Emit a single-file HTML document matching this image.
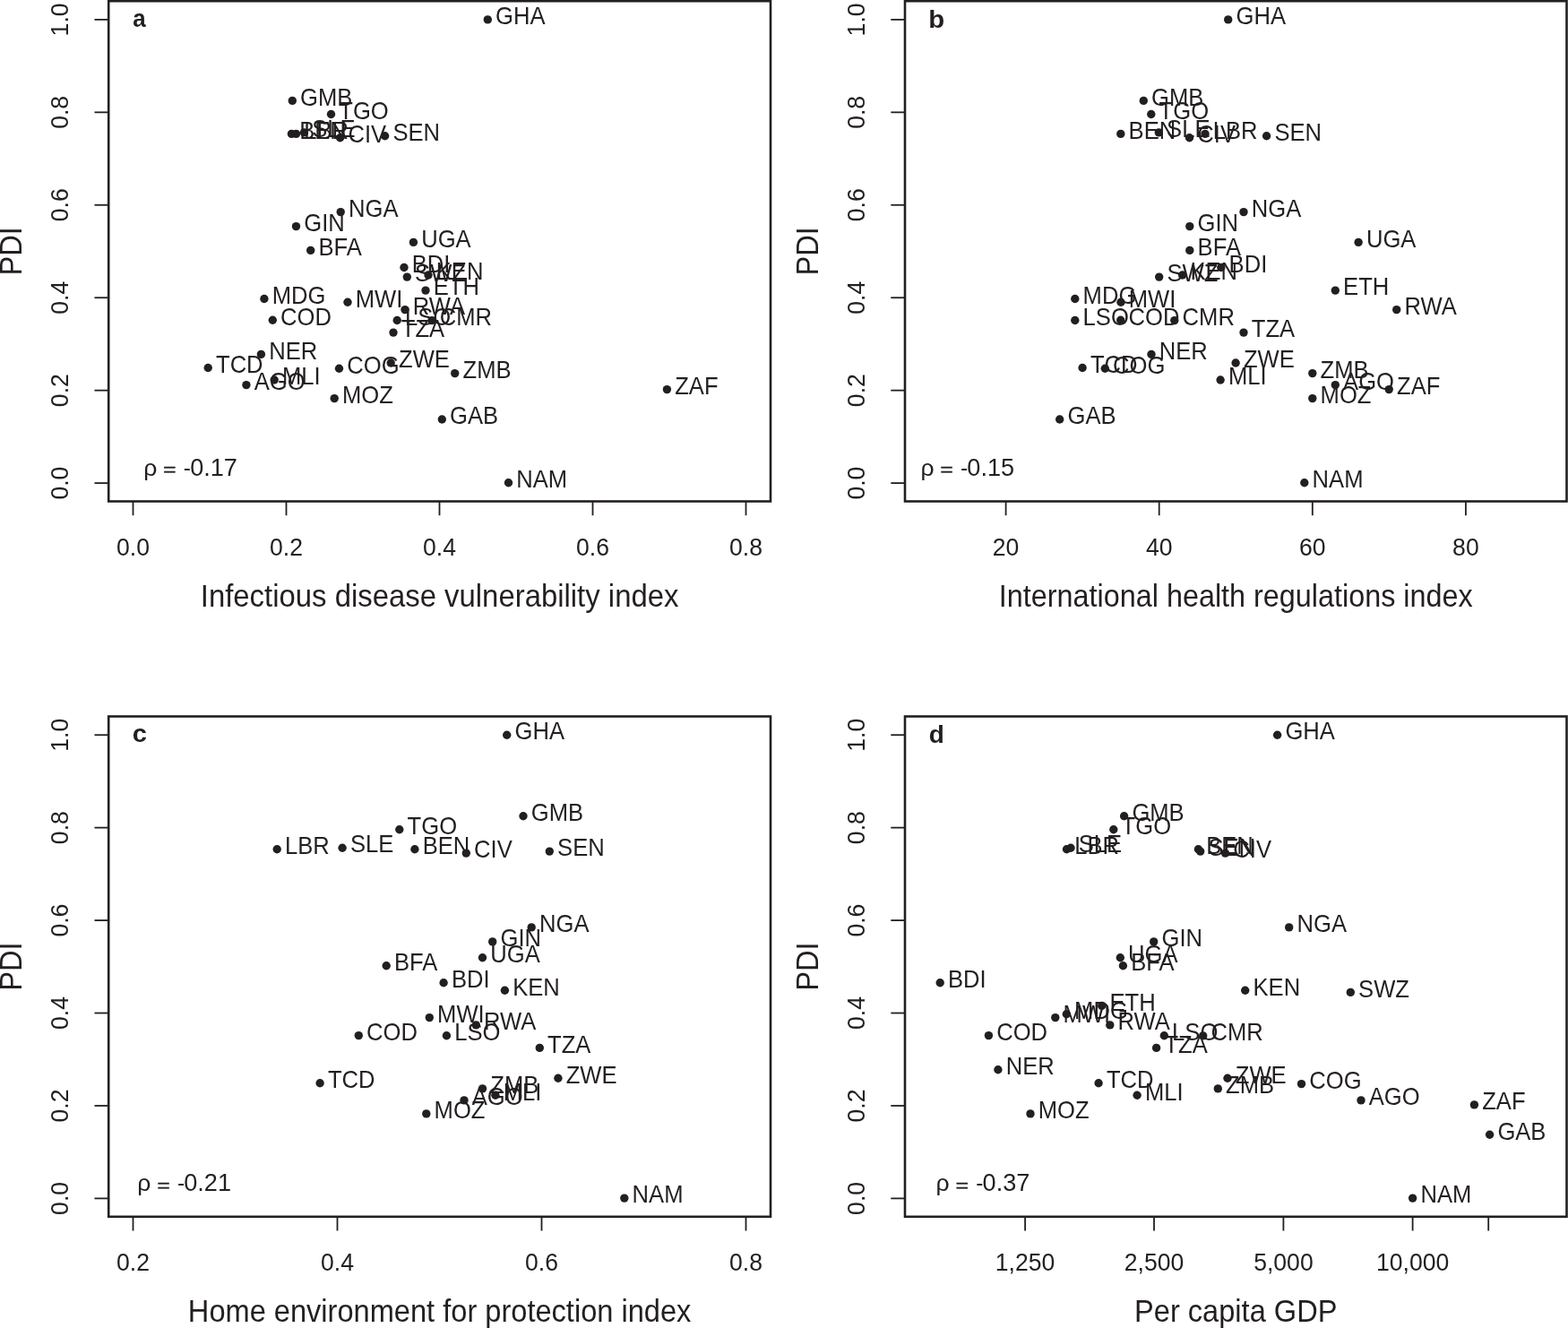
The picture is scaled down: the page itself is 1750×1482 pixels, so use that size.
<!DOCTYPE html>
<html><head><meta charset="utf-8"><title>PDI scatter plots</title>
<style>
html,body{margin:0;padding:0;background:#fff;}
body{width:1750px;height:1482px;overflow:hidden;}
svg{display:block;}
text{font-family:"Liberation Sans",Arial,Helvetica,sans-serif;fill:#231f20;}
circle{fill:#231f20;}
</style></head>
<body>
<svg width="1750" height="1482" viewBox="0 0 1750 1482">
<rect x="0" y="0" width="1750" height="1482" fill="#fff"/>
<rect x="121.2" y="1.2" width="738.80" height="558.30" fill="none" stroke="#231f20" stroke-width="2.6"/>
<line x1="105.50" y1="539.10" x2="121.2" y2="539.10" stroke="#231f20" stroke-width="1.8"/>
<text transform="translate(76.00,539.10) rotate(-90) scale(1.0000,1.0400)" font-size="26.6" text-anchor="middle">0.0</text>
<line x1="105.50" y1="435.66" x2="121.2" y2="435.66" stroke="#231f20" stroke-width="1.8"/>
<text transform="translate(76.00,435.66) rotate(-90) scale(1.0000,1.0400)" font-size="26.6" text-anchor="middle">0.2</text>
<line x1="105.50" y1="332.22" x2="121.2" y2="332.22" stroke="#231f20" stroke-width="1.8"/>
<text transform="translate(76.00,332.22) rotate(-90) scale(1.0000,1.0400)" font-size="26.6" text-anchor="middle">0.4</text>
<line x1="105.50" y1="228.78" x2="121.2" y2="228.78" stroke="#231f20" stroke-width="1.8"/>
<text transform="translate(76.00,228.78) rotate(-90) scale(1.0000,1.0400)" font-size="26.6" text-anchor="middle">0.6</text>
<line x1="105.50" y1="125.34" x2="121.2" y2="125.34" stroke="#231f20" stroke-width="1.8"/>
<text transform="translate(76.00,125.34) rotate(-90) scale(1.0000,1.0400)" font-size="26.6" text-anchor="middle">0.8</text>
<line x1="105.50" y1="21.90" x2="121.2" y2="21.90" stroke="#231f20" stroke-width="1.8"/>
<text transform="translate(76.00,21.90) rotate(-90) scale(1.0000,1.0400)" font-size="26.6" text-anchor="middle">1.0</text>
<line x1="148.50" y1="559.5" x2="148.50" y2="575.20" stroke="#231f20" stroke-width="1.8"/>
<text transform="translate(148.50,619.80) scale(1.0000,1.0400)" font-size="26.6" text-anchor="middle">0.0</text>
<line x1="319.50" y1="559.5" x2="319.50" y2="575.20" stroke="#231f20" stroke-width="1.8"/>
<text transform="translate(319.50,619.80) scale(1.0000,1.0400)" font-size="26.6" text-anchor="middle">0.2</text>
<line x1="490.50" y1="559.5" x2="490.50" y2="575.20" stroke="#231f20" stroke-width="1.8"/>
<text transform="translate(490.50,619.80) scale(1.0000,1.0400)" font-size="26.6" text-anchor="middle">0.4</text>
<line x1="661.50" y1="559.5" x2="661.50" y2="575.20" stroke="#231f20" stroke-width="1.8"/>
<text transform="translate(661.50,619.80) scale(1.0000,1.0400)" font-size="26.6" text-anchor="middle">0.6</text>
<line x1="832.50" y1="559.5" x2="832.50" y2="575.20" stroke="#231f20" stroke-width="1.8"/>
<text transform="translate(832.50,619.80) scale(1.0000,1.0400)" font-size="26.6" text-anchor="middle">0.8</text>
<circle cx="544.30" cy="21.90" r="4.7"/>
<circle cx="326.30" cy="112.40" r="4.7"/>
<circle cx="369.50" cy="127.50" r="4.7"/>
<circle cx="325.40" cy="149.40" r="4.7"/>
<circle cx="330.50" cy="149.40" r="4.7"/>
<circle cx="339.50" cy="147.90" r="4.7"/>
<circle cx="379.60" cy="153.80" r="4.7"/>
<circle cx="429.60" cy="151.80" r="4.7"/>
<circle cx="380.20" cy="236.60" r="4.7"/>
<circle cx="330.50" cy="252.60" r="4.7"/>
<circle cx="346.70" cy="279.40" r="4.7"/>
<circle cx="461.40" cy="270.40" r="4.7"/>
<circle cx="451.00" cy="298.50" r="4.7"/>
<circle cx="454.30" cy="309.10" r="4.7"/>
<circle cx="478.00" cy="307.00" r="4.7"/>
<circle cx="475.00" cy="324.10" r="4.7"/>
<circle cx="294.90" cy="333.50" r="4.7"/>
<circle cx="388.00" cy="337.30" r="4.7"/>
<circle cx="452.00" cy="345.60" r="4.7"/>
<circle cx="304.30" cy="357.30" r="4.7"/>
<circle cx="443.20" cy="357.50" r="4.7"/>
<circle cx="482.00" cy="357.60" r="4.7"/>
<circle cx="439.00" cy="371.10" r="4.7"/>
<circle cx="291.40" cy="395.40" r="4.7"/>
<circle cx="232.20" cy="410.50" r="4.7"/>
<circle cx="274.90" cy="429.60" r="4.7"/>
<circle cx="306.20" cy="424.00" r="4.7"/>
<circle cx="378.50" cy="411.30" r="4.7"/>
<circle cx="436.20" cy="405.00" r="4.7"/>
<circle cx="507.70" cy="416.60" r="4.7"/>
<circle cx="373.20" cy="444.60" r="4.7"/>
<circle cx="493.30" cy="468.00" r="4.7"/>
<circle cx="744.40" cy="434.60" r="4.7"/>
<circle cx="567.50" cy="538.80" r="4.7"/>
<text transform="translate(553.10,27.10) scale(1.0000,1.0450)" font-size="25.6">GHA</text>
<text transform="translate(335.10,117.60) scale(1.0000,1.0450)" font-size="25.6">GMB</text>
<text transform="translate(378.30,132.70) scale(1.0000,1.0450)" font-size="25.6">TGO</text>
<text transform="translate(334.20,154.60) scale(1.0000,1.0450)" font-size="25.6">BEN</text>
<text transform="translate(339.30,154.60) scale(1.0000,1.0450)" font-size="25.6">LBR</text>
<text transform="translate(348.30,153.10) scale(1.0000,1.0450)" font-size="25.6">SLE</text>
<text transform="translate(388.40,159.00) scale(1.0000,1.0450)" font-size="25.6">CIV</text>
<text transform="translate(438.40,157.00) scale(1.0000,1.0450)" font-size="25.6">SEN</text>
<text transform="translate(389.00,241.80) scale(1.0000,1.0450)" font-size="25.6">NGA</text>
<text transform="translate(339.30,257.80) scale(1.0000,1.0450)" font-size="25.6">GIN</text>
<text transform="translate(355.50,284.60) scale(1.0000,1.0450)" font-size="25.6">BFA</text>
<text transform="translate(470.20,275.60) scale(1.0000,1.0450)" font-size="25.6">UGA</text>
<text transform="translate(459.80,303.70) scale(1.0000,1.0450)" font-size="25.6">BDI</text>
<text transform="translate(463.10,314.30) scale(1.0000,1.0450)" font-size="25.6">SWZ</text>
<text transform="translate(486.80,312.20) scale(1.0000,1.0450)" font-size="25.6">KEN</text>
<text transform="translate(483.80,329.30) scale(1.0000,1.0450)" font-size="25.6">ETH</text>
<text transform="translate(303.70,338.70) scale(1.0000,1.0450)" font-size="25.6">MDG</text>
<text transform="translate(396.80,342.50) scale(1.0000,1.0450)" font-size="25.6">MWI</text>
<text transform="translate(460.80,350.80) scale(1.0000,1.0450)" font-size="25.6">RWA</text>
<text transform="translate(313.10,362.50) scale(1.0000,1.0450)" font-size="25.6">COD</text>
<text transform="translate(452.00,362.70) scale(1.0000,1.0450)" font-size="25.6">LSO</text>
<text transform="translate(490.80,362.80) scale(1.0000,1.0450)" font-size="25.6">CMR</text>
<text transform="translate(447.80,376.30) scale(1.0000,1.0450)" font-size="25.6">TZA</text>
<text transform="translate(300.20,400.60) scale(1.0000,1.0450)" font-size="25.6">NER</text>
<text transform="translate(241.00,415.70) scale(1.0000,1.0450)" font-size="25.6">TCD</text>
<text transform="translate(283.70,434.80) scale(1.0000,1.0450)" font-size="25.6">AGO</text>
<text transform="translate(315.00,429.20) scale(1.0000,1.0450)" font-size="25.6">MLI</text>
<text transform="translate(387.30,416.50) scale(1.0000,1.0450)" font-size="25.6">COG</text>
<text transform="translate(445.00,410.20) scale(1.0000,1.0450)" font-size="25.6">ZWE</text>
<text transform="translate(516.50,421.80) scale(1.0000,1.0450)" font-size="25.6">ZMB</text>
<text transform="translate(382.00,449.80) scale(1.0000,1.0450)" font-size="25.6">MOZ</text>
<text transform="translate(502.10,473.20) scale(1.0000,1.0450)" font-size="25.6">GAB</text>
<text transform="translate(753.20,439.80) scale(1.0000,1.0450)" font-size="25.6">ZAF</text>
<text transform="translate(576.30,544.00) scale(1.0000,1.0450)" font-size="25.6">NAM</text>
<text transform="translate(148.34,29.90) scale(0.9100,1.0000)" font-size="28.5" font-weight="bold">a</text>
<text transform="translate(160.19,530.80)" font-size="26.6">ρ</text>
<text transform="translate(182.10,530.20) scale(0.9400,0.6600)" font-size="26.6" stroke="#231f20" stroke-width="0.5">=</text>
<text transform="translate(204.80,530.80) scale(0.9200,1.0000)" font-size="26.6">-</text>
<text transform="translate(212.16,530.80) scale(1.0200,1.0500)" font-size="26.6">0.17</text>
<text transform="translate(490.60,676.60) scale(1.0090,1.0600)" font-size="32.6" text-anchor="middle">Infectious disease vulnerability index</text>
<text transform="translate(24.00,280.35) rotate(-90) scale(1.0000,1.0600)" font-size="32.6" text-anchor="middle">PDI</text>
<rect x="1010.0" y="1.2" width="738.50" height="558.30" fill="none" stroke="#231f20" stroke-width="2.6"/>
<line x1="994.30" y1="539.10" x2="1010.0" y2="539.10" stroke="#231f20" stroke-width="1.8"/>
<text transform="translate(964.80,539.10) rotate(-90) scale(1.0000,1.0400)" font-size="26.6" text-anchor="middle">0.0</text>
<line x1="994.30" y1="435.66" x2="1010.0" y2="435.66" stroke="#231f20" stroke-width="1.8"/>
<text transform="translate(964.80,435.66) rotate(-90) scale(1.0000,1.0400)" font-size="26.6" text-anchor="middle">0.2</text>
<line x1="994.30" y1="332.22" x2="1010.0" y2="332.22" stroke="#231f20" stroke-width="1.8"/>
<text transform="translate(964.80,332.22) rotate(-90) scale(1.0000,1.0400)" font-size="26.6" text-anchor="middle">0.4</text>
<line x1="994.30" y1="228.78" x2="1010.0" y2="228.78" stroke="#231f20" stroke-width="1.8"/>
<text transform="translate(964.80,228.78) rotate(-90) scale(1.0000,1.0400)" font-size="26.6" text-anchor="middle">0.6</text>
<line x1="994.30" y1="125.34" x2="1010.0" y2="125.34" stroke="#231f20" stroke-width="1.8"/>
<text transform="translate(964.80,125.34) rotate(-90) scale(1.0000,1.0400)" font-size="26.6" text-anchor="middle">0.8</text>
<line x1="994.30" y1="21.90" x2="1010.0" y2="21.90" stroke="#231f20" stroke-width="1.8"/>
<text transform="translate(964.80,21.90) rotate(-90) scale(1.0000,1.0400)" font-size="26.6" text-anchor="middle">1.0</text>
<line x1="1122.60" y1="559.5" x2="1122.60" y2="575.20" stroke="#231f20" stroke-width="1.8"/>
<text transform="translate(1122.60,619.80) scale(1.0000,1.0400)" font-size="26.6" text-anchor="middle">20</text>
<line x1="1293.70" y1="559.5" x2="1293.70" y2="575.20" stroke="#231f20" stroke-width="1.8"/>
<text transform="translate(1293.70,619.80) scale(1.0000,1.0400)" font-size="26.6" text-anchor="middle">40</text>
<line x1="1464.80" y1="559.5" x2="1464.80" y2="575.20" stroke="#231f20" stroke-width="1.8"/>
<text transform="translate(1464.80,619.80) scale(1.0000,1.0400)" font-size="26.6" text-anchor="middle">60</text>
<line x1="1635.90" y1="559.5" x2="1635.90" y2="575.20" stroke="#231f20" stroke-width="1.8"/>
<text transform="translate(1635.90,619.80) scale(1.0000,1.0400)" font-size="26.6" text-anchor="middle">80</text>
<circle cx="1370.70" cy="21.90" r="4.7"/>
<circle cx="1276.30" cy="112.40" r="4.7"/>
<circle cx="1284.80" cy="127.50" r="4.7"/>
<circle cx="1250.80" cy="149.40" r="4.7"/>
<circle cx="1293.30" cy="147.90" r="4.7"/>
<circle cx="1327.50" cy="153.80" r="4.7"/>
<circle cx="1345.00" cy="149.40" r="4.7"/>
<circle cx="1413.60" cy="151.80" r="4.7"/>
<circle cx="1388.00" cy="236.60" r="4.7"/>
<circle cx="1327.80" cy="252.60" r="4.7"/>
<circle cx="1327.80" cy="279.40" r="4.7"/>
<circle cx="1362.80" cy="298.50" r="4.7"/>
<circle cx="1293.70" cy="309.10" r="4.7"/>
<circle cx="1319.60" cy="307.00" r="4.7"/>
<circle cx="1516.10" cy="270.40" r="4.7"/>
<circle cx="1490.30" cy="324.10" r="4.7"/>
<circle cx="1558.70" cy="345.60" r="4.7"/>
<circle cx="1199.80" cy="333.50" r="4.7"/>
<circle cx="1251.00" cy="337.30" r="4.7"/>
<circle cx="1199.80" cy="357.50" r="4.7"/>
<circle cx="1250.70" cy="357.30" r="4.7"/>
<circle cx="1310.80" cy="357.60" r="4.7"/>
<circle cx="1388.00" cy="371.10" r="4.7"/>
<circle cx="1208.10" cy="410.50" r="4.7"/>
<circle cx="1233.30" cy="411.30" r="4.7"/>
<circle cx="1285.00" cy="395.40" r="4.7"/>
<circle cx="1379.10" cy="405.00" r="4.7"/>
<circle cx="1362.10" cy="424.00" r="4.7"/>
<circle cx="1182.70" cy="468.00" r="4.7"/>
<circle cx="1464.80" cy="416.60" r="4.7"/>
<circle cx="1490.30" cy="429.60" r="4.7"/>
<circle cx="1550.20" cy="434.60" r="4.7"/>
<circle cx="1464.80" cy="444.60" r="4.7"/>
<circle cx="1455.80" cy="538.80" r="4.7"/>
<text transform="translate(1379.50,27.10) scale(1.0000,1.0450)" font-size="25.6">GHA</text>
<text transform="translate(1285.10,117.60) scale(1.0000,1.0450)" font-size="25.6">GMB</text>
<text transform="translate(1293.60,132.70) scale(1.0000,1.0450)" font-size="25.6">TGO</text>
<text transform="translate(1259.60,154.60) scale(1.0000,1.0450)" font-size="25.6">BEN</text>
<text transform="translate(1302.10,153.10) scale(1.0000,1.0450)" font-size="25.6">SLE</text>
<text transform="translate(1336.30,159.00) scale(1.0000,1.0450)" font-size="25.6">CIV</text>
<text transform="translate(1353.80,154.60) scale(1.0000,1.0450)" font-size="25.6">LBR</text>
<text transform="translate(1422.40,157.00) scale(1.0000,1.0450)" font-size="25.6">SEN</text>
<text transform="translate(1396.80,241.80) scale(1.0000,1.0450)" font-size="25.6">NGA</text>
<text transform="translate(1336.60,257.80) scale(1.0000,1.0450)" font-size="25.6">GIN</text>
<text transform="translate(1336.60,284.60) scale(1.0000,1.0450)" font-size="25.6">BFA</text>
<text transform="translate(1371.60,303.70) scale(1.0000,1.0450)" font-size="25.6">BDI</text>
<text transform="translate(1302.50,314.30) scale(1.0000,1.0450)" font-size="25.6">SWZ</text>
<text transform="translate(1328.40,312.20) scale(1.0000,1.0450)" font-size="25.6">KEN</text>
<text transform="translate(1524.90,275.60) scale(1.0000,1.0450)" font-size="25.6">UGA</text>
<text transform="translate(1499.10,329.30) scale(1.0000,1.0450)" font-size="25.6">ETH</text>
<text transform="translate(1567.50,350.80) scale(1.0000,1.0450)" font-size="25.6">RWA</text>
<text transform="translate(1208.60,338.70) scale(1.0000,1.0450)" font-size="25.6">MDG</text>
<text transform="translate(1259.80,342.50) scale(1.0000,1.0450)" font-size="25.6">MWI</text>
<text transform="translate(1208.60,362.70) scale(1.0000,1.0450)" font-size="25.6">LSO</text>
<text transform="translate(1259.50,362.50) scale(1.0000,1.0450)" font-size="25.6">COD</text>
<text transform="translate(1319.60,362.80) scale(1.0000,1.0450)" font-size="25.6">CMR</text>
<text transform="translate(1396.80,376.30) scale(1.0000,1.0450)" font-size="25.6">TZA</text>
<text transform="translate(1216.90,415.70) scale(1.0000,1.0450)" font-size="25.6">TCD</text>
<text transform="translate(1242.10,416.50) scale(1.0000,1.0450)" font-size="25.6">COG</text>
<text transform="translate(1293.80,400.60) scale(1.0000,1.0450)" font-size="25.6">NER</text>
<text transform="translate(1387.90,410.20) scale(1.0000,1.0450)" font-size="25.6">ZWE</text>
<text transform="translate(1370.90,429.20) scale(1.0000,1.0450)" font-size="25.6">MLI</text>
<text transform="translate(1191.50,473.20) scale(1.0000,1.0450)" font-size="25.6">GAB</text>
<text transform="translate(1473.60,421.80) scale(1.0000,1.0450)" font-size="25.6">ZMB</text>
<text transform="translate(1499.10,434.80) scale(1.0000,1.0450)" font-size="25.6">AGO</text>
<text transform="translate(1559.00,439.80) scale(1.0000,1.0450)" font-size="25.6">ZAF</text>
<text transform="translate(1473.60,449.80) scale(1.0000,1.0450)" font-size="25.6">MOZ</text>
<text transform="translate(1464.60,544.00) scale(1.0000,1.0450)" font-size="25.6">NAM</text>
<text transform="translate(1036.37,31.10) scale(1.0300,1.0000)" font-size="28.5" font-weight="bold">b</text>
<text transform="translate(1027.39,530.80)" font-size="26.6">ρ</text>
<text transform="translate(1049.30,530.20) scale(0.9400,0.6600)" font-size="26.6" stroke="#231f20" stroke-width="0.5">=</text>
<text transform="translate(1072.00,530.80) scale(0.9200,1.0000)" font-size="26.6">-</text>
<text transform="translate(1079.36,530.80) scale(1.0200,1.0500)" font-size="26.6">0.15</text>
<text transform="translate(1379.25,676.60) scale(0.9930,1.0600)" font-size="32.6" text-anchor="middle">International health regulations index</text>
<text transform="translate(912.80,280.35) rotate(-90) scale(1.0000,1.0600)" font-size="32.6" text-anchor="middle">PDI</text>
<rect x="121.2" y="799.5" width="738.80" height="558.30" fill="none" stroke="#231f20" stroke-width="2.6"/>
<line x1="105.50" y1="1337.40" x2="121.2" y2="1337.40" stroke="#231f20" stroke-width="1.8"/>
<text transform="translate(76.00,1337.40) rotate(-90) scale(1.0000,1.0400)" font-size="26.6" text-anchor="middle">0.0</text>
<line x1="105.50" y1="1233.96" x2="121.2" y2="1233.96" stroke="#231f20" stroke-width="1.8"/>
<text transform="translate(76.00,1233.96) rotate(-90) scale(1.0000,1.0400)" font-size="26.6" text-anchor="middle">0.2</text>
<line x1="105.50" y1="1130.52" x2="121.2" y2="1130.52" stroke="#231f20" stroke-width="1.8"/>
<text transform="translate(76.00,1130.52) rotate(-90) scale(1.0000,1.0400)" font-size="26.6" text-anchor="middle">0.4</text>
<line x1="105.50" y1="1027.08" x2="121.2" y2="1027.08" stroke="#231f20" stroke-width="1.8"/>
<text transform="translate(76.00,1027.08) rotate(-90) scale(1.0000,1.0400)" font-size="26.6" text-anchor="middle">0.6</text>
<line x1="105.50" y1="923.64" x2="121.2" y2="923.64" stroke="#231f20" stroke-width="1.8"/>
<text transform="translate(76.00,923.64) rotate(-90) scale(1.0000,1.0400)" font-size="26.6" text-anchor="middle">0.8</text>
<line x1="105.50" y1="820.20" x2="121.2" y2="820.20" stroke="#231f20" stroke-width="1.8"/>
<text transform="translate(76.00,820.20) rotate(-90) scale(1.0000,1.0400)" font-size="26.6" text-anchor="middle">1.0</text>
<line x1="148.50" y1="1357.8" x2="148.50" y2="1373.50" stroke="#231f20" stroke-width="1.8"/>
<text transform="translate(148.50,1418.10) scale(1.0000,1.0400)" font-size="26.6" text-anchor="middle">0.2</text>
<line x1="376.50" y1="1357.8" x2="376.50" y2="1373.50" stroke="#231f20" stroke-width="1.8"/>
<text transform="translate(376.50,1418.10) scale(1.0000,1.0400)" font-size="26.6" text-anchor="middle">0.4</text>
<line x1="604.50" y1="1357.8" x2="604.50" y2="1373.50" stroke="#231f20" stroke-width="1.8"/>
<text transform="translate(604.50,1418.10) scale(1.0000,1.0400)" font-size="26.6" text-anchor="middle">0.6</text>
<line x1="832.50" y1="1357.8" x2="832.50" y2="1373.50" stroke="#231f20" stroke-width="1.8"/>
<text transform="translate(832.50,1418.10) scale(1.0000,1.0400)" font-size="26.6" text-anchor="middle">0.8</text>
<circle cx="565.70" cy="820.20" r="4.7"/>
<circle cx="584.00" cy="910.70" r="4.7"/>
<circle cx="445.80" cy="925.80" r="4.7"/>
<circle cx="309.20" cy="947.70" r="4.7"/>
<circle cx="382.10" cy="946.20" r="4.7"/>
<circle cx="462.90" cy="947.70" r="4.7"/>
<circle cx="520.30" cy="952.10" r="4.7"/>
<circle cx="613.30" cy="950.10" r="4.7"/>
<circle cx="593.20" cy="1034.90" r="4.7"/>
<circle cx="549.70" cy="1050.90" r="4.7"/>
<circle cx="538.50" cy="1068.70" r="4.7"/>
<circle cx="431.20" cy="1077.70" r="4.7"/>
<circle cx="495.10" cy="1096.80" r="4.7"/>
<circle cx="563.40" cy="1105.30" r="4.7"/>
<circle cx="479.30" cy="1135.60" r="4.7"/>
<circle cx="531.30" cy="1143.90" r="4.7"/>
<circle cx="400.30" cy="1155.60" r="4.7"/>
<circle cx="498.40" cy="1155.80" r="4.7"/>
<circle cx="602.30" cy="1169.40" r="4.7"/>
<circle cx="357.10" cy="1208.80" r="4.7"/>
<circle cx="622.90" cy="1203.30" r="4.7"/>
<circle cx="538.50" cy="1214.90" r="4.7"/>
<circle cx="552.90" cy="1222.30" r="4.7"/>
<circle cx="518.00" cy="1227.90" r="4.7"/>
<circle cx="475.80" cy="1242.90" r="4.7"/>
<circle cx="696.80" cy="1337.10" r="4.7"/>
<text transform="translate(574.50,825.40) scale(1.0000,1.0450)" font-size="25.6">GHA</text>
<text transform="translate(592.80,915.90) scale(1.0000,1.0450)" font-size="25.6">GMB</text>
<text transform="translate(454.60,931.00) scale(1.0000,1.0450)" font-size="25.6">TGO</text>
<text transform="translate(318.00,952.90) scale(1.0000,1.0450)" font-size="25.6">LBR</text>
<text transform="translate(390.90,951.40) scale(1.0000,1.0450)" font-size="25.6">SLE</text>
<text transform="translate(471.70,952.90) scale(1.0000,1.0450)" font-size="25.6">BEN</text>
<text transform="translate(529.10,957.30) scale(1.0000,1.0450)" font-size="25.6">CIV</text>
<text transform="translate(622.10,955.30) scale(1.0000,1.0450)" font-size="25.6">SEN</text>
<text transform="translate(602.00,1040.10) scale(1.0000,1.0450)" font-size="25.6">NGA</text>
<text transform="translate(558.50,1056.10) scale(1.0000,1.0450)" font-size="25.6">GIN</text>
<text transform="translate(547.30,1073.90) scale(1.0000,1.0450)" font-size="25.6">UGA</text>
<text transform="translate(440.00,1082.90) scale(1.0000,1.0450)" font-size="25.6">BFA</text>
<text transform="translate(503.90,1102.00) scale(1.0000,1.0450)" font-size="25.6">BDI</text>
<text transform="translate(572.20,1110.50) scale(1.0000,1.0450)" font-size="25.6">KEN</text>
<text transform="translate(488.10,1140.80) scale(1.0000,1.0450)" font-size="25.6">MWI</text>
<text transform="translate(540.10,1149.10) scale(1.0000,1.0450)" font-size="25.6">RWA</text>
<text transform="translate(409.10,1160.80) scale(1.0000,1.0450)" font-size="25.6">COD</text>
<text transform="translate(507.20,1161.00) scale(1.0000,1.0450)" font-size="25.6">LSO</text>
<text transform="translate(611.10,1174.60) scale(1.0000,1.0450)" font-size="25.6">TZA</text>
<text transform="translate(365.90,1214.00) scale(1.0000,1.0450)" font-size="25.6">TCD</text>
<text transform="translate(631.70,1208.50) scale(1.0000,1.0450)" font-size="25.6">ZWE</text>
<text transform="translate(547.30,1220.10) scale(1.0000,1.0450)" font-size="25.6">ZMB</text>
<text transform="translate(561.70,1227.50) scale(1.0000,1.0450)" font-size="25.6">MLI</text>
<text transform="translate(526.80,1233.10) scale(1.0000,1.0450)" font-size="25.6">AGO</text>
<text transform="translate(484.60,1248.10) scale(1.0000,1.0450)" font-size="25.6">MOZ</text>
<text transform="translate(705.60,1342.30) scale(1.0000,1.0450)" font-size="25.6">NAM</text>
<text transform="translate(147.66,828.10) scale(1.0200,1.0000)" font-size="28.5" font-weight="bold">c</text>
<text transform="translate(153.29,1329.10)" font-size="26.6">ρ</text>
<text transform="translate(175.20,1328.50) scale(0.9400,0.6600)" font-size="26.6" stroke="#231f20" stroke-width="0.5">=</text>
<text transform="translate(197.90,1329.10) scale(0.9200,1.0000)" font-size="26.6">-</text>
<text transform="translate(205.26,1329.10) scale(1.0200,1.0500)" font-size="26.6">0.21</text>
<text transform="translate(490.60,1474.90) scale(1.0000,1.0600)" font-size="32.6" text-anchor="middle">Home environment for protection index</text>
<text transform="translate(24.00,1078.65) rotate(-90) scale(1.0000,1.0600)" font-size="32.6" text-anchor="middle">PDI</text>
<rect x="1010.0" y="799.5" width="738.50" height="558.30" fill="none" stroke="#231f20" stroke-width="2.6"/>
<line x1="994.30" y1="1337.40" x2="1010.0" y2="1337.40" stroke="#231f20" stroke-width="1.8"/>
<text transform="translate(964.80,1337.40) rotate(-90) scale(1.0000,1.0400)" font-size="26.6" text-anchor="middle">0.0</text>
<line x1="994.30" y1="1233.96" x2="1010.0" y2="1233.96" stroke="#231f20" stroke-width="1.8"/>
<text transform="translate(964.80,1233.96) rotate(-90) scale(1.0000,1.0400)" font-size="26.6" text-anchor="middle">0.2</text>
<line x1="994.30" y1="1130.52" x2="1010.0" y2="1130.52" stroke="#231f20" stroke-width="1.8"/>
<text transform="translate(964.80,1130.52) rotate(-90) scale(1.0000,1.0400)" font-size="26.6" text-anchor="middle">0.4</text>
<line x1="994.30" y1="1027.08" x2="1010.0" y2="1027.08" stroke="#231f20" stroke-width="1.8"/>
<text transform="translate(964.80,1027.08) rotate(-90) scale(1.0000,1.0400)" font-size="26.6" text-anchor="middle">0.6</text>
<line x1="994.30" y1="923.64" x2="1010.0" y2="923.64" stroke="#231f20" stroke-width="1.8"/>
<text transform="translate(964.80,923.64) rotate(-90) scale(1.0000,1.0400)" font-size="26.6" text-anchor="middle">0.8</text>
<line x1="994.30" y1="820.20" x2="1010.0" y2="820.20" stroke="#231f20" stroke-width="1.8"/>
<text transform="translate(964.80,820.20) rotate(-90) scale(1.0000,1.0400)" font-size="26.6" text-anchor="middle">1.0</text>
<line x1="1144.10" y1="1357.8" x2="1144.10" y2="1373.50" stroke="#231f20" stroke-width="1.8"/>
<text transform="translate(1144.10,1418.10) scale(1.0000,1.0400)" font-size="26.6" text-anchor="middle">1,250</text>
<line x1="1288.00" y1="1357.8" x2="1288.00" y2="1373.50" stroke="#231f20" stroke-width="1.8"/>
<text transform="translate(1288.00,1418.10) scale(1.0000,1.0400)" font-size="26.6" text-anchor="middle">2,500</text>
<line x1="1432.40" y1="1357.8" x2="1432.40" y2="1373.50" stroke="#231f20" stroke-width="1.8"/>
<text transform="translate(1432.40,1418.10) scale(1.0000,1.0400)" font-size="26.6" text-anchor="middle">5,000</text>
<line x1="1576.60" y1="1357.8" x2="1576.60" y2="1373.50" stroke="#231f20" stroke-width="1.8"/>
<text transform="translate(1576.60,1418.10) scale(1.0000,1.0400)" font-size="26.6" text-anchor="middle">10,000</text>
<line x1="1661.20" y1="1357.8" x2="1661.20" y2="1373.50" stroke="#231f20" stroke-width="1.8"/>
<circle cx="1425.60" cy="820.20" r="4.7"/>
<circle cx="1254.60" cy="910.70" r="4.7"/>
<circle cx="1242.80" cy="925.80" r="4.7"/>
<circle cx="1190.50" cy="947.70" r="4.7"/>
<circle cx="1195.00" cy="946.20" r="4.7"/>
<circle cx="1337.40" cy="947.70" r="4.7"/>
<circle cx="1339.70" cy="950.10" r="4.7"/>
<circle cx="1367.50" cy="952.10" r="4.7"/>
<circle cx="1438.70" cy="1034.90" r="4.7"/>
<circle cx="1287.70" cy="1050.90" r="4.7"/>
<circle cx="1250.30" cy="1068.70" r="4.7"/>
<circle cx="1253.40" cy="1077.70" r="4.7"/>
<circle cx="1049.20" cy="1096.80" r="4.7"/>
<circle cx="1389.70" cy="1105.30" r="4.7"/>
<circle cx="1507.30" cy="1107.40" r="4.7"/>
<circle cx="1177.80" cy="1135.60" r="4.7"/>
<circle cx="1190.30" cy="1131.80" r="4.7"/>
<circle cx="1229.70" cy="1122.40" r="4.7"/>
<circle cx="1238.80" cy="1143.90" r="4.7"/>
<circle cx="1103.40" cy="1155.60" r="4.7"/>
<circle cx="1299.30" cy="1155.80" r="4.7"/>
<circle cx="1342.70" cy="1155.90" r="4.7"/>
<circle cx="1290.60" cy="1169.40" r="4.7"/>
<circle cx="1113.90" cy="1193.70" r="4.7"/>
<circle cx="1226.10" cy="1208.80" r="4.7"/>
<circle cx="1269.10" cy="1222.30" r="4.7"/>
<circle cx="1150.00" cy="1242.90" r="4.7"/>
<circle cx="1370.00" cy="1203.30" r="4.7"/>
<circle cx="1359.30" cy="1214.90" r="4.7"/>
<circle cx="1452.50" cy="1209.60" r="4.7"/>
<circle cx="1519.00" cy="1227.90" r="4.7"/>
<circle cx="1645.40" cy="1232.90" r="4.7"/>
<circle cx="1662.60" cy="1266.30" r="4.7"/>
<circle cx="1576.60" cy="1337.10" r="4.7"/>
<text transform="translate(1434.40,825.40) scale(1.0000,1.0450)" font-size="25.6">GHA</text>
<text transform="translate(1263.40,915.90) scale(1.0000,1.0450)" font-size="25.6">GMB</text>
<text transform="translate(1251.60,931.00) scale(1.0000,1.0450)" font-size="25.6">TGO</text>
<text transform="translate(1199.30,952.90) scale(1.0000,1.0450)" font-size="25.6">LBR</text>
<text transform="translate(1203.80,951.40) scale(1.0000,1.0450)" font-size="25.6">SLE</text>
<text transform="translate(1346.20,952.90) scale(1.0000,1.0450)" font-size="25.6">BEN</text>
<text transform="translate(1348.50,955.30) scale(1.0000,1.0450)" font-size="25.6">SEN</text>
<text transform="translate(1376.30,957.30) scale(1.0000,1.0450)" font-size="25.6">CIV</text>
<text transform="translate(1447.50,1040.10) scale(1.0000,1.0450)" font-size="25.6">NGA</text>
<text transform="translate(1296.50,1056.10) scale(1.0000,1.0450)" font-size="25.6">GIN</text>
<text transform="translate(1259.10,1073.90) scale(1.0000,1.0450)" font-size="25.6">UGA</text>
<text transform="translate(1262.20,1082.90) scale(1.0000,1.0450)" font-size="25.6">BFA</text>
<text transform="translate(1058.00,1102.00) scale(1.0000,1.0450)" font-size="25.6">BDI</text>
<text transform="translate(1398.50,1110.50) scale(1.0000,1.0450)" font-size="25.6">KEN</text>
<text transform="translate(1516.10,1112.60) scale(1.0000,1.0450)" font-size="25.6">SWZ</text>
<text transform="translate(1186.60,1140.80) scale(1.0000,1.0450)" font-size="25.6">MWI</text>
<text transform="translate(1199.10,1137.00) scale(1.0000,1.0450)" font-size="25.6">MDG</text>
<text transform="translate(1238.50,1127.60) scale(1.0000,1.0450)" font-size="25.6">ETH</text>
<text transform="translate(1247.60,1149.10) scale(1.0000,1.0450)" font-size="25.6">RWA</text>
<text transform="translate(1112.20,1160.80) scale(1.0000,1.0450)" font-size="25.6">COD</text>
<text transform="translate(1308.10,1161.00) scale(1.0000,1.0450)" font-size="25.6">LSO</text>
<text transform="translate(1351.50,1161.10) scale(1.0000,1.0450)" font-size="25.6">CMR</text>
<text transform="translate(1299.40,1174.60) scale(1.0000,1.0450)" font-size="25.6">TZA</text>
<text transform="translate(1122.70,1198.90) scale(1.0000,1.0450)" font-size="25.6">NER</text>
<text transform="translate(1234.90,1214.00) scale(1.0000,1.0450)" font-size="25.6">TCD</text>
<text transform="translate(1277.90,1227.50) scale(1.0000,1.0450)" font-size="25.6">MLI</text>
<text transform="translate(1158.80,1248.10) scale(1.0000,1.0450)" font-size="25.6">MOZ</text>
<text transform="translate(1378.80,1208.50) scale(1.0000,1.0450)" font-size="25.6">ZWE</text>
<text transform="translate(1368.10,1220.10) scale(1.0000,1.0450)" font-size="25.6">ZMB</text>
<text transform="translate(1461.30,1214.80) scale(1.0000,1.0450)" font-size="25.6">COG</text>
<text transform="translate(1527.80,1233.10) scale(1.0000,1.0450)" font-size="25.6">AGO</text>
<text transform="translate(1654.20,1238.10) scale(1.0000,1.0450)" font-size="25.6">ZAF</text>
<text transform="translate(1671.40,1271.50) scale(1.0000,1.0450)" font-size="25.6">GAB</text>
<text transform="translate(1585.40,1342.30) scale(1.0000,1.0450)" font-size="25.6">NAM</text>
<text transform="translate(1036.85,829.40) scale(0.9800,1.0000)" font-size="28.5" font-weight="bold">d</text>
<text transform="translate(1044.59,1329.10)" font-size="26.6">ρ</text>
<text transform="translate(1066.50,1328.50) scale(0.9400,0.6600)" font-size="26.6" stroke="#231f20" stroke-width="0.5">=</text>
<text transform="translate(1089.20,1329.10) scale(0.9200,1.0000)" font-size="26.6">-</text>
<text transform="translate(1096.56,1329.10) scale(1.0200,1.0500)" font-size="26.6">0.37</text>
<text transform="translate(1379.25,1474.90) scale(1.0000,1.0600)" font-size="32.6" text-anchor="middle">Per capita GDP</text>
<text transform="translate(912.80,1078.65) rotate(-90) scale(1.0000,1.0600)" font-size="32.6" text-anchor="middle">PDI</text>
</svg>
</body></html>
